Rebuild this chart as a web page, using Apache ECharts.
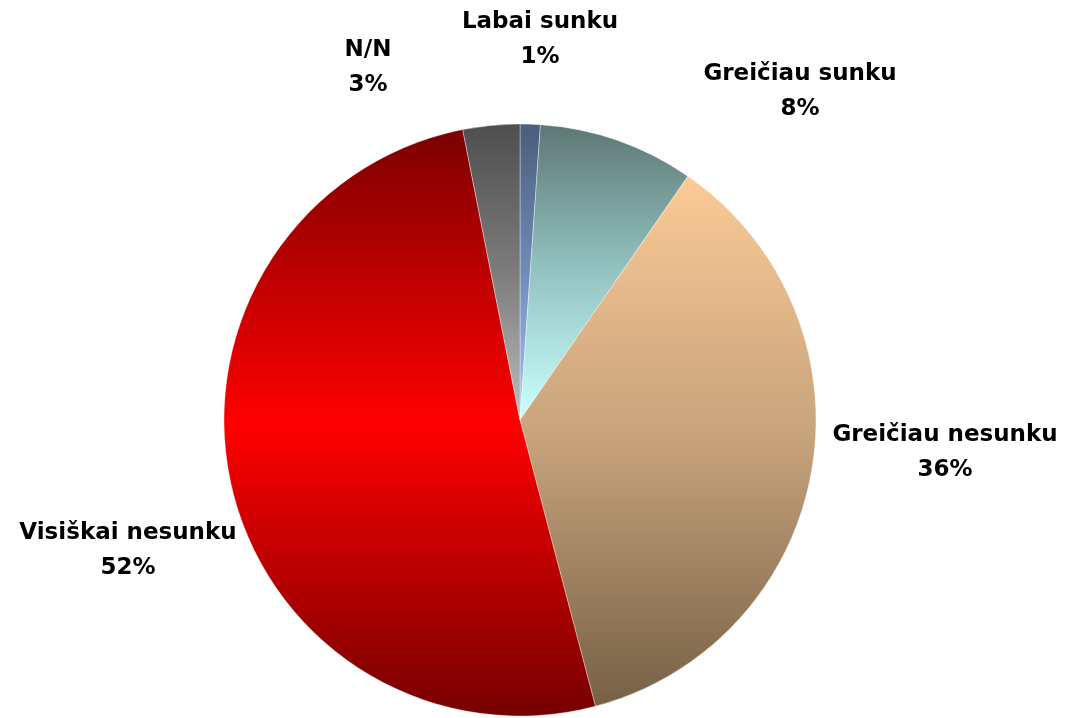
<!DOCTYPE html>
<html>
<head>
<meta charset="utf-8">
<script src="https://cdn.jsdelivr.net/npm/echarts@6/dist/echarts.min.js"></script>
<style>
  html, body { margin: 0; padding: 0; background: #fff; }
  #chart { width: 1066px; height: 718px; }
</style>
</head>
<body>
<div id="chart"></div>
<script>
// answers, clockwise from 12 o'clock
const categories = ["Labai sunku", "Greičiau sunku", "Greičiau nesunku", "Visiškai nesunku", "N/N"];
const values = [1.1, 8.5, 36.3, 51.0, 3.1];
const pctLabels = ["1%", "8%", "36%", "52%", "3%"];

// vertical gradients per slice [top, middle, bottom]
const gradients = [
  ["#4a5e7c", "#6f8cb8", "#a6c4f4"],
  ["#5d7773", "#93c4c2", "#ccffff"],
  ["#fbca96", "#c6a27b", "#766045"],
  ["#7c0000", "#ff0000", "#760000"],
  ["#4e4e4e", "#7c7c7c", "#bcbcbc"],
];

// label centres (px)
const labelXY = [[540, 40], [800, 92], [945, 453], [128, 551], [368, 68]];

const chart = echarts.init(document.getElementById("chart"));

const grad = (c) =>
  new echarts.graphic.LinearGradient(0, 0, 0, 1, [
    { offset: 0, color: c[0] },
    { offset: 0.5, color: c[1] },
    { offset: 1, color: c[2] },
  ]);

chart.setOption({
  animation: false,
  series: [
    {
      type: "pie",
      center: [520, 420],
      radius: 296,
      startAngle: 90,
      clockwise: true,
      data: categories.map((name, i) => ({
        name,
        value: values[i],
        itemStyle: { color: grad(gradients[i]) },
      })),
      itemStyle: { borderColor: "rgba(255,255,255,0.6)", borderWidth: 0.6 },
      label: {
        show: true,
        position: "outside",
        overflow: "none",
        formatter: (p) => p.name + "\n" + pctLabels[p.dataIndex],
        fontFamily: "DejaVu Sans",
        fontWeight: "bold",
        fontSize: 23,
        lineHeight: 35,
        color: "#000",
        align: "center",
      },
      labelLine: { show: false },
      labelLayout: (p) => ({
        x: labelXY[p.dataIndex][0],
        y: labelXY[p.dataIndex][1],
        align: "center",
        verticalAlign: "middle",
      }),
    },
  ],
});
</script>
</body>
</html>
